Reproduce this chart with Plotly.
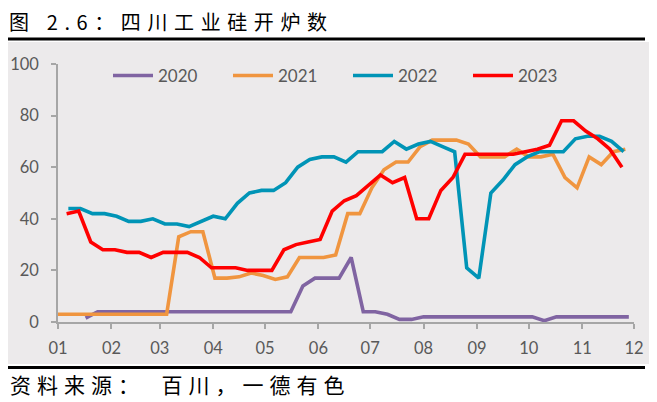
import plotly.graph_objects as go
import pandas as pd

# ---------------- data ----------------
series_names = ["2020", "2021", "2022", "2023"]
series_colors = ["#8064A2", "#F0953F", "#0094B6", "#FF0000"]
# first weekly observation of each series, placed on a common Jan-Dec axis
series_start = ["2023-01-17", "2023-01-01", "2023-01-07", "2023-01-06"]

v2020 = [1.5, 4, 4, 4, 4, 4, 4, 4, 4, 4, 4, 4, 4, 4, 4, 4, 4, 4,
         14, 17, 17, 17, 25, 4, 4, 3, 1, 1,
         2, 2, 2, 2, 2, 2, 2, 2, 2, 2, 0.5, 2, 2, 2, 2, 2, 2, 2]
v2021 = [3, 3, 3, 3, 3, 3, 3, 3, 3, 3, 33, 35, 35, 17, 17, 17.5, 19, 18,
         16.5, 17.5, 25, 25, 25, 26, 42, 42, 52, 59, 62, 62, 68, 70.5, 70.5,
         70.5, 69, 64, 64, 64, 67, 64, 64, 65, 56, 52, 64, 61, 66, 67]
v2022 = [44, 44, 42, 42, 41, 39, 39, 40, 38, 38, 37, 39, 41, 40, 46, 50,
         51, 51, 54, 60, 63, 64, 64, 62, 66, 66, 66, 70, 67, 69, 70, 68, 66,
         21, 17, 50, 55, 61, 64, 66, 66, 66, 71, 72, 72, 70, 66]
v2023 = [42, 43, 31, 28, 28, 27, 27, 25, 27, 27, 27, 25, 21, 21, 21, 20,
         20, 20, 28, 30, 31, 32, 43, 47, 49, 53, 57, 54, 56, 40, 40, 51, 56,
         65, 65, 65, 65, 65, 66, 67, 68.5, 78, 78, 74, 71, 67, 60]
series_values = [v2020, v2021, v2022, v2023]

y_ticks = [0, 20, 40, 60, 80, 100]
x_range = ["2023-01-01", "2023-12-01"]

title_text = "图 2.6：四川工业硅开炉数"
source_text = "资料来源：\u3000百川，一德有色"

# ---------------- layout geometry ----------------
# the page body adds an 8px margin, so the figure is 8px smaller than the window
OFF = 8
W, H = 657 - OFF, 402 - OFF
ML, MR, MT, MB = 50, 23, 56, 80
PW, PH = W - ML - MR, H - MT - MB


def px_x(px):
    """window pixel x (reference coordinates) -> paper fraction"""
    return (px - OFF - ML) / PW


def px_y(py):
    """window pixel y (reference coordinates) -> paper fraction"""
    return (H - MB - (py - OFF)) / PH


CJK = "Noto Sans CJK SC"
NUM = "Lato"
GREY_TXT = "#595959"
AXIS = "#A6A6A6"

fig = go.Figure()
for name, color, start, vals in zip(series_names, series_colors, series_start, series_values):
    dates = pd.date_range(start, periods=len(vals), freq="7D")
    fig.add_trace(go.Scatter(x=dates, y=vals, name=name, mode="lines",
                             line=dict(color=color, width=3.6)))

fig.update_layout(
    width=W, height=H,
    margin=dict(l=ML, r=MR, t=MT, b=MB, autoexpand=False),
    paper_bgcolor="white",
    plot_bgcolor="rgba(0,0,0,0)",
    showlegend=True,
    legend=dict(orientation="h", x=px_x(108), xanchor="left", y=px_y(76), yanchor="middle",
                entrywidth=65, entrywidthmode="pixels",
                font=dict(family=NUM, size=17, color=GREY_TXT),
                bgcolor="rgba(0,0,0,0)", itemwidth=40),
    xaxis=dict(type="date", range=x_range, dtick="M1", tick0="2023-01-01",
               tickformat="%m", showgrid=False, zeroline=False, automargin=False,
               showline=True, linecolor=AXIS, linewidth=1.5,
               ticks="outside", ticklen=5, tickcolor=AXIS, tickwidth=1.5,
               ticklabelstandoff=5,
               tickfont=dict(family=NUM, size=16.5, color=GREY_TXT)),
    yaxis=dict(range=[0, 100], tickvals=y_ticks, showgrid=False, zeroline=False,
               automargin=False,
               showline=True, linecolor=AXIS, linewidth=1.5,
               ticks="outside", ticklen=5, tickcolor=AXIS, tickwidth=1.5,
               ticklabelstandoff=9,
               tickfont=dict(family=NUM, size=16.5, color=GREY_TXT)),
)

# grey panel behind chart
fig.add_shape(type="rect", xref="paper", yref="paper", layer="below",
              x0=px_x(6), x1=px_x(650), y0=px_y(364), y1=px_y(42),
              fillcolor="#ECEAEB", line=dict(width=0))
# rule under the title and above the source
for py in (39, 367.5):
    fig.add_shape(type="line", xref="paper", yref="paper",
                  x0=px_x(5), x1=px_x(645), y0=px_y(py), y1=px_y(py),
                  line=dict(color="black", width=3))

fig.add_annotation(xref="paper", yref="paper", x=px_x(8), y=px_y(21.5),
                   xanchor="left", yanchor="middle", showarrow=False, borderpad=0,
                   text='<span style="letter-spacing:6.6px">' + title_text + '</span>',
                   font=dict(family=CJK, size=20, color="black"))
fig.add_annotation(xref="paper", yref="paper", x=px_x(9), y=px_y(384),
                   xanchor="left", yanchor="middle", showarrow=False, borderpad=0,
                   text='<span style="letter-spacing:6px">' + source_text + '</span>',
                   font=dict(family=CJK, size=21, color="black"))

fig.write_html("out.html")
